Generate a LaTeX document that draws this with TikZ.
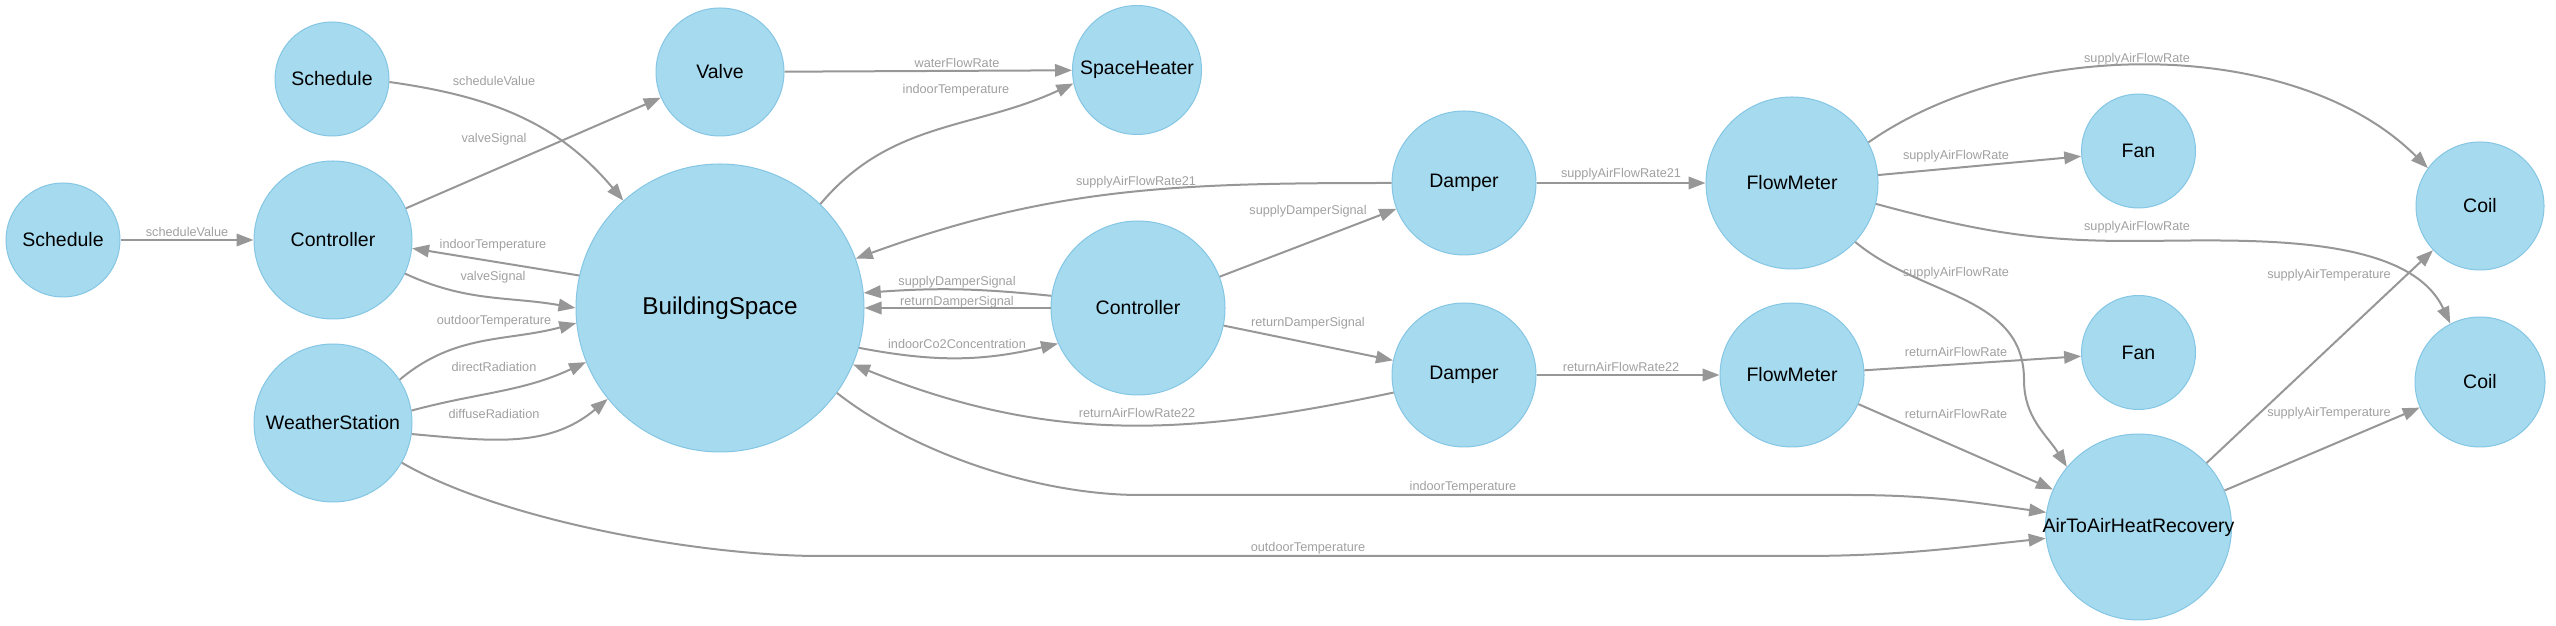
\documentclass[tikz,border=0pt]{standalone}
\usepackage{fontspec}
\setmainfont{Liberation Sans}
\usetikzlibrary{arrows.meta}
\definecolor{nodefill}{HTML}{A6DAEF}
\definecolor{nodeline}{HTML}{84C6E4}
\definecolor{edgegray}{HTML}{979797}
\definecolor{lblgray}{HTML}{A0A0A0}

\begin{document}
\begin{tikzpicture}[x=1pt, y=1pt, >={Triangle[length=17pt,width=12.5pt]},
      n/.style={circle, draw=nodeline, line width=1pt, fill=nodefill, inner sep=0pt,
                font=\fontsize{19.5}{22}\selectfont},
      lbl/.style={text=lblgray, inner sep=0pt, font=\fontsize{12.7}{14}\selectfont},
      c/.style={->, draw=edgegray, line width=2pt}]
      \useasboundingbox (0,0) rectangle (2556,626);
      \node[n, minimum size=114pt] (sch1)   at (63,386)     {Schedule};
      \node[n, minimum size=114pt] (sch2)   at (332,547)    {Schedule};
      \node[n, minimum size=158pt] (ctl1)   at (333,386)    {Controller};
      \node[n, minimum size=158pt] (ws)     at (333,203)    {WeatherStation};
      \node[n, minimum size=128pt] (valve)  at (720,554)    {Valve};
      \node[n, minimum size=288pt, font=\fontsize{24.3}{28}\selectfont] (bs) at (720,318) {BuildingSpace};
      \node[n, minimum size=129pt] (heater) at (1137,556)   {SpaceHeater};
      \node[n, minimum size=174pt] (ctl2)   at (1138,318)   {Controller};
      \node[n, minimum size=144pt] (dmp1)   at (1464,443)   {Damper};
      \node[n, minimum size=144pt] (dmp2)   at (1464,251)   {Damper};
      \node[n, minimum size=172pt] (fm1)    at (1792,443)   {FlowMeter};
      \node[n, minimum size=144pt] (fm2)    at (1792,251)   {FlowMeter};
      \node[n, minimum size=114pt] (fan1)   at (2138.5,475) {Fan};
      \node[n, minimum size=114pt] (fan2)   at (2138.5,273.5) {Fan};
      \node[n, minimum size=128pt] (coil1)  at (2480,420)   {Coil};
      \node[n, minimum size=130pt] (coil2)  at (2480,244)   {Coil};
      \node[n, minimum size=186pt] (ahr)    at (2138.5,99)  {\makebox[0pt]{AirToAirHeatRecovery}};

      \draw[c] (sch1) -- (ctl1) node[lbl] at (187,394) {scheduleValue};
      \draw[c] (sch2.-3) to[out=-8, in=130] (bs.132) node[lbl] at (494,545) {scheduleValue};
      \draw[c] (ctl1) -- (valve) node[lbl] at (494,487) {valveSignal};
      \draw[c] (bs.167) -- (ctl1.-6) node[lbl] at (493,381) {indoorTemperature};
      \draw[c] (ctl1.-25) to[out=-25, in=170] (bs.180) node[lbl] at (493,349) {valveSignal};
      \draw[c] (ws.33) to[out=40, in=195] (bs.186) node[lbl] at (494,305) {outdoorTemperature};
      \draw[c] (ws.9) to[out=15, in=205] (bs.202) node[lbl] at (494,259) {directRadiation};
      \draw[c] (ws.-8) to[out=-5, in=220] (bs.219) node[lbl] at (494,212) {diffuseRadiation};
      \draw[c] (ws.-30) to[out=-30, in=180, looseness=0.7] (820,70) -- (1800,70)
            to[out=0, in=186] (ahr.187) node[lbl] at (1308,78) {outdoorTemperature};
      \draw[c] (bs.-36) to[out=-38, in=180, looseness=0.8] (1140,131) -- (1850,131)
            to[out=0, in=172] (ahr.171) node[lbl] at (1463,139) {indoorTemperature};
      \draw[c] (bs.46) to[out=50, in=205] (heater.192) node[lbl] at (956,536) {indoorTemperature};
      \draw[c] (valve) -- (heater) node[lbl] at (957,563) {waterFlowRate};
      \draw[c] (dmp1) to[out=180, in=20] (bs) node[lbl] at (1136,444) {supplyAirFlowRate21};
      \draw[c] (ctl2.172) to[bend right=5] (bs.6) node[lbl] at (957,344) {supplyDamperSignal};
      \draw[c] (ctl2) -- (bs) node[lbl] at (957,324) {returnDamperSignal};
      \draw[c] (bs.-16) to[bend right=12] (ctl2.204) node[lbl] at (957,282) {indoorCo2Concentration};
      \draw[c] (ctl2) -- (dmp1) node[lbl] at (1308,415) {supplyDamperSignal};
      \draw[c] (ctl2) -- (dmp2) node[lbl] at (1308,303) {returnDamperSignal};
      \draw[c] (dmp2.194) to[out=192, in=-22] (bs.-23) node[lbl] at (1137,213) {returnAirFlowRate22};
      \draw[c] (dmp1) -- (fm1) node[lbl] at (1621,452) {supplyAirFlowRate21};
      \draw[c] (dmp2) -- (fm2) node[lbl] at (1621,259) {returnAirFlowRate22};
      \draw[c] (fm1) -- (fan1) node[lbl] at (1956,470) {supplyAirFlowRate};
      \draw[c] (fm1.28) to[out=35, in=135, looseness=0.85] (coil1.144) node[lbl] at (2137,567) {supplyAirFlowRate};
      \draw[c] (fm1.-14) to[out=-15, in=180] (2130,385) to[out=0, in=115, looseness=0.8] (coil2.117)
            node[lbl] at (2137,399) {supplyAirFlowRate};
      \draw[c] (fm1.-43) to[out=-40, in=90] (2024,246) to[out=-90, in=122] (ahr.140)
            node[lbl] at (1956,353) {supplyAirFlowRate};
      \draw[c] (fm2) -- (fan2) node[lbl] at (1956,274) {returnAirFlowRate};
      \draw[c] (fm2) -- (ahr) node[lbl] at (1956,212) {returnAirFlowRate};
      \draw[c] (ahr) -- (coil1) node[lbl] at (2329,351) {supplyAirTemperature};
      \draw[c] (ahr) -- (coil2) node[lbl] at (2329,213) {supplyAirTemperature};
\end{tikzpicture}
\end{document}
